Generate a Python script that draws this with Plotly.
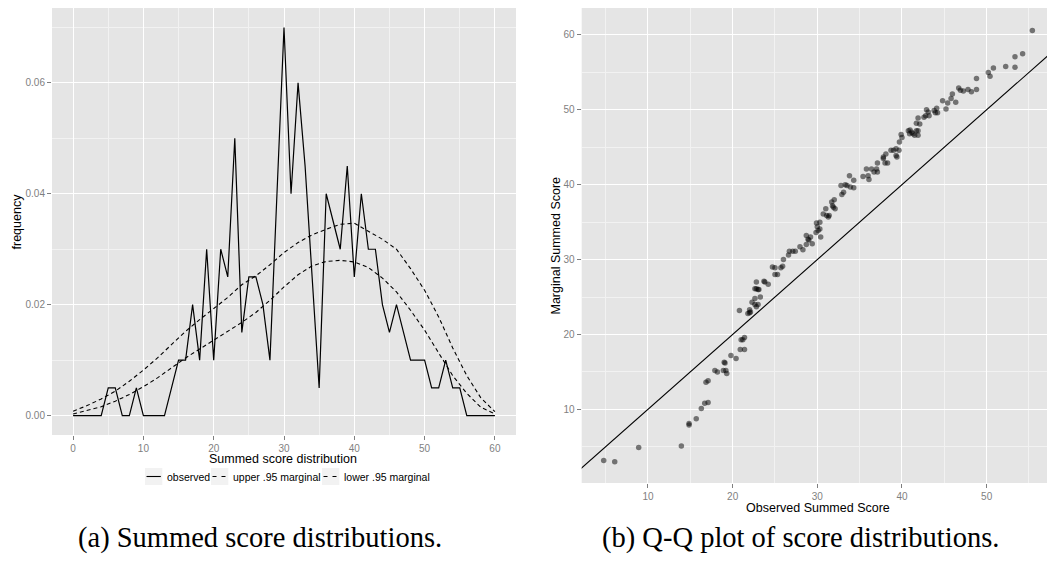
import plotly.graph_objects as go

# ---------------- data ----------------
score = list(range(61))
observed = [0, 0, 0, 0, 0, 0.005, 0.005, 0, 0, 0.005,
            0, 0, 0, 0, 0.005, 0.01, 0.01, 0.02, 0.01, 0.03,
            0.01, 0.03, 0.025, 0.05, 0.015, 0.025, 0.025, 0.02, 0.01, 0.04,
            0.07, 0.04, 0.06, 0.045, 0.025, 0.005, 0.04, 0.035, 0.03, 0.045,
            0.025, 0.04, 0.03, 0.03, 0.02, 0.015, 0.02, 0.015, 0.01, 0.01,
            0.01, 0.005, 0.005, 0.01, 0.005, 0.005, 0, 0, 0, 0, 0]

marg_score = list(range(0, 61, 2))
upper95 = [0.0008, 0.0018, 0.0030, 0.0044, 0.0062, 0.0082, 0.0104, 0.0128, 0.0152, 0.0173,
           0.0193, 0.0213, 0.0236, 0.0252, 0.0272, 0.0294, 0.0312, 0.0326, 0.0336, 0.0345,
           0.0347, 0.0332, 0.0318, 0.0300, 0.0265, 0.0226, 0.0178, 0.0122, 0.0072, 0.0032, 0.0007]
lower95 = [0.0003, 0.0009, 0.0016, 0.0026, 0.0038, 0.0052, 0.0068, 0.0086, 0.0104, 0.0120,
           0.0136, 0.0152, 0.0168, 0.0186, 0.0208, 0.0232, 0.0254, 0.0270, 0.0278, 0.0280,
           0.0277, 0.0267, 0.0248, 0.0223, 0.0190, 0.0154, 0.0112, 0.0072, 0.0040, 0.0015, 0.0003]

qq_observed = [4.77, 6.07, 8.9, 13.94, 14.85, 14.85, 15.7, 16.3, 16.7, 17.1, 16.85, 17.1, 17.9, 18.2,
               18.9, 19.1, 19.0, 19.2, 19.3, 19.8, 20.4, 20.9, 21.4, 21.0, 21.2, 21.4, 20.8, 21.8,
               22.0, 22.1, 22.0, 22.29, 22.63, 22.8, 23.0, 23.27, 22.63, 22.8, 22.63, 23.0, 23.1,
               22.8, 23.7, 23.8, 24.2, 24.7, 25.0, 25.3, 25.0, 25.7, 25.9, 26.0, 26.6, 26.7, 27.1,
               27.4, 27.95, 28.3, 28.7, 29.4, 28.7, 29.2, 29.0, 28.9, 29.9, 30.3, 30.0, 30.1, 30.3,
               29.85, 30.4, 30.7, 31.0, 31.3, 31.1, 31.4, 31.7, 32.0, 31.9, 32.1, 31.8, 32.9, 33.1,
               32.8, 33.3, 33.5, 33.8, 33.9, 34.3, 34.3, 35.4, 35.8, 36.0, 36.1, 36.4, 36.7, 37.0,
               37.1, 37.1, 37.8, 38.0, 38.1, 38.3, 37.8, 38.7, 39.0, 39.3, 39.4, 39.3, 39.65, 39.7,
               40.0, 39.9, 40.75, 40.95, 41.15, 41.3, 40.9, 41.5, 41.7, 41.9, 41.9, 41.7, 42.1, 41.9,
               42.6, 42.8, 42.9, 43.2, 43.1, 43.8, 43.95, 44.1, 44.2, 44.8, 45.2, 45.4, 45.8, 45.95,
               46.35, 46.7, 46.9, 47.25, 47.8, 48.2, 48.8, 48.8, 50.2, 50.4, 50.8, 52.25, 53.35,
               53.35, 54.25, 55.4]
qq_marginal = [3.15, 3.0, 4.9, 5.1, 8.1, 7.9, 8.75, 10.1, 10.8, 10.9, 13.6, 13.8, 15.2, 15.0,
               15.2, 16.2, 16.3, 15.2, 14.8, 17.2, 16.8, 18.0, 18.0, 19.3, 19.3, 19.6, 23.2, 22.8,
               23.3, 23.0, 22.9, 24.3, 24.0, 23.7, 24.0, 25.0, 24.8, 26.1, 26.1, 26.0, 26.0,
               27.0, 27.1, 27.0, 26.7, 29.0, 28.9, 28.0, 28.0, 28.9, 29.1, 30.0, 30.6, 31.1, 31.1,
               31.1, 31.7, 31.3, 32.0, 32.1, 33.2, 33.0, 32.6, 32.7, 34.9, 35.0, 34.4, 33.9, 34.1,
               33.6, 33.0, 36.1, 36.8, 35.7, 35.9, 35.9, 37.7, 38.0, 37.0, 36.8, 37.2, 38.7, 39.0,
               39.9, 40.0, 39.9, 41.2, 39.7, 40.6, 39.6, 41.1, 42.1, 41.2, 40.7, 42.1, 41.7, 42.1,
               42.9, 41.7, 43.5, 42.9, 44.1, 42.9, 43.7, 44.6, 44.6, 44.8, 43.7, 43.9, 44.6, 45.7,
               46.3, 46.7, 47.2, 47.3, 47.0, 46.8, 46.8, 46.6, 47.2, 46.6, 47.2, 48.2, 48.1, 48.9,
               49.0, 49.2, 50.0, 49.2, 49.7, 49.9, 49.6, 50.2, 49.6, 51.2, 50.1, 50.9, 51.5, 52.1,
               51.0, 52.9, 52.6, 52.5, 52.7, 52.4, 52.7, 54.2, 55.0, 54.5, 55.6, 55.8, 55.7,
               57.1, 57.5, 60.6]
identity_line = [0, 65]

legend_labels = ["observed", "upper .95 marginal", "lower .95 marginal"]
caption_a = "(a) Summed score distributions."
caption_b = "(b) Q-Q plot of score distributions."

# ---------------- layout helpers ----------------
W, H = 1047, 568
def px(x):
    return x / W
def py(y):
    return 1 - y / H

SANS = "Liberation Sans, Arial, sans-serif"
SERIF = "Liberation Serif, Times New Roman, serif"
TICKCOL = "#7F7F7F"

fig = go.Figure()

fig.add_trace(go.Scatter(x=score, y=observed, mode="lines",
                         line=dict(color="black", width=1.2),
                         xaxis="x", yaxis="y", name=legend_labels[0], showlegend=False))
fig.add_trace(go.Scatter(x=marg_score, y=upper95, mode="lines",
                         line=dict(color="black", width=1.1, dash="4px,3px"),
                         xaxis="x", yaxis="y", name=legend_labels[1], showlegend=False))
fig.add_trace(go.Scatter(x=marg_score, y=lower95, mode="lines",
                         line=dict(color="black", width=1.1, dash="4px,3px"),
                         xaxis="x", yaxis="y", name=legend_labels[2], showlegend=False))

fig.add_trace(go.Scatter(x=qq_observed, y=qq_marginal, mode="markers",
                         marker=dict(color="black", opacity=0.5, size=5.5, line=dict(width=0)),
                         xaxis="x2", yaxis="y2", showlegend=False))
fig.add_trace(go.Scatter(x=identity_line, y=identity_line, mode="lines",
                         line=dict(color="black", width=1.1),
                         xaxis="x2", yaxis="y2", showlegend=False))

def axis_style(**kw):
    d = dict(showgrid=True, gridcolor="white", gridwidth=1.1, zeroline=False,
             showline=False, ticks="outside", ticklen=4, tickwidth=1, tickcolor=TICKCOL,
             automargin=False,
             tickfont=dict(family=SANS, size=10, color=TICKCOL))
    d.update(kw)
    return d

minor = dict(showgrid=True, gridcolor="#F2F2F2", gridwidth=0.6)

fig.update_layout(
    width=W, height=H,
    margin=dict(l=0, r=0, t=0, b=0, autoexpand=False),
    paper_bgcolor="white", plot_bgcolor="#E5E5E5",
    showlegend=False,
    xaxis=axis_style(domain=[px(52), px(516)], range=[-3, 63],
                     tickvals=[0, 10, 20, 30, 40, 50, 60],
                     minor=dict(tickvals=[5, 15, 25, 35, 45, 55], **minor),
                     anchor="y"),
    yaxis=axis_style(domain=[py(435), py(8)], range=[-0.0035, 0.0735],
                     tickvals=[0, 0.02, 0.04, 0.06], tickformat=".2f",
                     minor=dict(tickvals=[0.01, 0.03, 0.05, 0.07], **minor),
                     anchor="x"),
    xaxis2=axis_style(domain=[px(581.7), 1.0], range=[2.17, 57.13],
                      tickvals=[10, 20, 30, 40, 50],
                      minor=dict(tickvals=[5, 15, 25, 35, 45, 55], **minor),
                      anchor="y2"),
    yaxis2=axis_style(domain=[py(483), py(8)], range=[0.16, 63.6],
                      tickvals=[10, 20, 30, 40, 50, 60],
                      minor=dict(tickvals=[5, 15, 25, 35, 45, 55], **minor),
                      anchor="x2"),
)

ann = []
title_font = dict(family=SANS, size=12.5, color="black")
ann.append(dict(text="Summed score distribution", x=px(283), y=py(459), xref="paper", yref="paper",
                showarrow=False, font=title_font, xanchor="center", yanchor="middle"))
ann.append(dict(text="frequency", x=px(16), y=py(221.5), xref="paper", yref="paper",
                showarrow=False, font=title_font, textangle=-90, xanchor="center", yanchor="middle"))
ann.append(dict(text="Observed Summed Score", x=px(818), y=py(508), xref="paper", yref="paper",
                showarrow=False, font=title_font, xanchor="center", yanchor="middle"))
ann.append(dict(text="Marginal Summed Score", x=px(555), y=py(245.5), xref="paper", yref="paper",
                showarrow=False, font=title_font, textangle=-90, xanchor="center", yanchor="middle"))

# legend (drawn as a ggplot-style key row)
key_left = [145, 211, 322]
text_left = [165, 230.7, 341.7]
dashes = ["solid", "4px,5px", "4px,5px"]
shapes = []
for kl, tl, lab, ds in zip(key_left, text_left, legend_labels, dashes):
    shapes.append(dict(type="rect", xref="paper", yref="paper",
                       x0=px(kl), x1=px(kl + 17.3), y0=py(485), y1=py(468),
                       fillcolor="#F2F2F2", line=dict(width=0), layer="below"))
    shapes.append(dict(type="line", xref="paper", yref="paper",
                       x0=px(kl + 1.5), x1=px(kl + 15.8), y0=py(476.5), y1=py(476.5),
                       line=dict(color="black", width=1.1, dash=ds)))
    ann.append(dict(text=lab, x=px(tl), y=py(476.5), xref="paper", yref="paper",
                    showarrow=False, font=dict(family=SANS, size=10.5, color="black"),
                    xanchor="left", yanchor="middle"))

ann.append(dict(text=caption_a, x=px(260), y=py(538), xref="paper", yref="paper",
                showarrow=False, font=dict(family=SERIF, size=28.5, color="black"),
                xanchor="center", yanchor="middle"))
ann.append(dict(text=caption_b, x=px(800), y=py(538), xref="paper", yref="paper",
                showarrow=False, font=dict(family=SERIF, size=28.5, color="black"),
                xanchor="center", yanchor="middle"))

fig.update_layout(annotations=ann, shapes=shapes)
# remove the browser's default 8px body margin so the figure fills the window exactly
fig.write_html("out.html", config={"displayModeBar": False},
               post_script="document.body.style.margin='0';document.body.style.overflow='hidden';")
